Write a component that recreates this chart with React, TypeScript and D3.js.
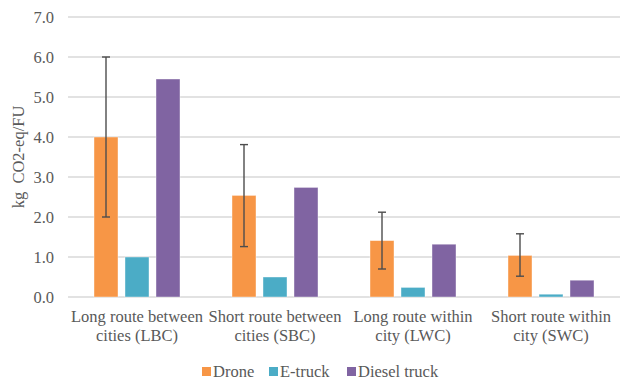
import React from "react";
import * as d3 from "d3";

const categories = ["LBC", "SBC", "LWC", "SWC"];
const categoryLines = [
  ["Long route between", "cities (LBC)"],
  ["Short route between", "cities (SBC)"],
  ["Long route within", "city (LWC)"],
  ["Short route within", "city (SWC)"],
];
const seriesNames = ["Drone", "E-truck", "Diesel truck"];
const seriesColors = ["#F79646", "#4BACC6", "#8064A2"];
const droneValues = [4.0, 2.54, 1.41, 1.04];
const eTruckValues = [1.0, 0.5, 0.24, 0.07];
const dieselValues = [5.45, 2.74, 1.32, 0.42];
const droneErrLow = [2.0, 1.26, 0.7, 0.52];
const droneErrHigh = [6.0, 3.81, 2.12, 1.58];
const yTicks = [0, 1, 2, 3, 4, 5, 6, 7];

const W = 621;
const H = 380;
const margin = { left: 68, right: 1, top: 17, bottom: 83 };
const textColor = "#595959";
const font = "Liberation Serif, Times New Roman, Times, DejaVu Serif, serif";
const fs = 16.5;

export default function App() {
  const x0 = d3
    .scaleBand<string>()
    .domain(categories)
    .range([margin.left, W - margin.right])
    .paddingInner(0)
    .paddingOuter(0);
  const y = d3.scaleLinear().domain([0, 7]).range([H - margin.bottom, margin.top]);
  const barW = 24;
  const step = 31;
  const seriesValues = [droneValues, eTruckValues, dieselValues];

  return (
    <svg
      width={W}
      height={H}
      style={{ position: "absolute", left: 0, top: 0, background: "#fff", fontFamily: font }}
    >
      {yTicks.map((t) => (
        <g key={t}>
          <line
            x1={margin.left}
            x2={W - margin.right}
            y1={y(t)}
            y2={y(t)}
            stroke="#d9d9d9"
            strokeWidth={1.3}
          />
          <text
            x={54}
            y={y(t)}
            dy="0.35em"
            textAnchor="end"
            fontSize={fs}
            fill={textColor}
          >
            {t.toFixed(1)}
          </text>
        </g>
      ))}
      {categories.map((c, ci) => {
        const cx = (x0(c) as number) + x0.bandwidth() / 2;
        return (
          <g key={c}>
            {seriesValues.map((vals, si) => {
              const bx = cx + (si - 1) * step - barW / 2;
              return (
                <rect
                  key={si}
                  x={bx}
                  y={y(vals[ci])}
                  width={barW}
                  height={y(0) - y(vals[ci])}
                  fill={seriesColors[si]}
                  stroke="#fff"
                  strokeOpacity={0.5}
                  strokeWidth={0.8}
                />
              );
            })}
            {(() => {
              const ex = cx - step;
              return (
                <g stroke="#4d4d4d" strokeWidth={1.4}>
                  <line x1={ex} x2={ex} y1={y(droneErrHigh[ci])} y2={y(droneErrLow[ci])} />
                  <line x1={ex - 4} x2={ex + 4} y1={y(droneErrHigh[ci])} y2={y(droneErrHigh[ci])} />
                  <line x1={ex - 4} x2={ex + 4} y1={y(droneErrLow[ci])} y2={y(droneErrLow[ci])} />
                </g>
              );
            })()}
            {categoryLines[ci].map((ln, li) => (
              <text
                key={li}
                x={cx}
                y={322 + li * 19}
                textAnchor="middle"
                fontSize={fs}
                fill={textColor}
              >
                {ln}
              </text>
            ))}
          </g>
        );
      })}
      <text
        transform={`translate(24, 157) rotate(-90)`}
        textAnchor="middle"
        fontSize={fs}
        fill={textColor}
        style={{ whiteSpace: "pre" }}
      >
        {"kg  CO2-eq/FU"}
      </text>
      {(() => {
        const legendX = [202, 269, 347];
        return seriesNames.map((n, i) => (
          <g key={n}>
            <rect x={legendX[i]} y={367} width={9} height={9} fill={seriesColors[i]} />
            <text x={legendX[i] + 11} y={377} fontSize={fs} fill={textColor}>
              {n}
            </text>
          </g>
        ));
      })()}
    </svg>
  );
}
